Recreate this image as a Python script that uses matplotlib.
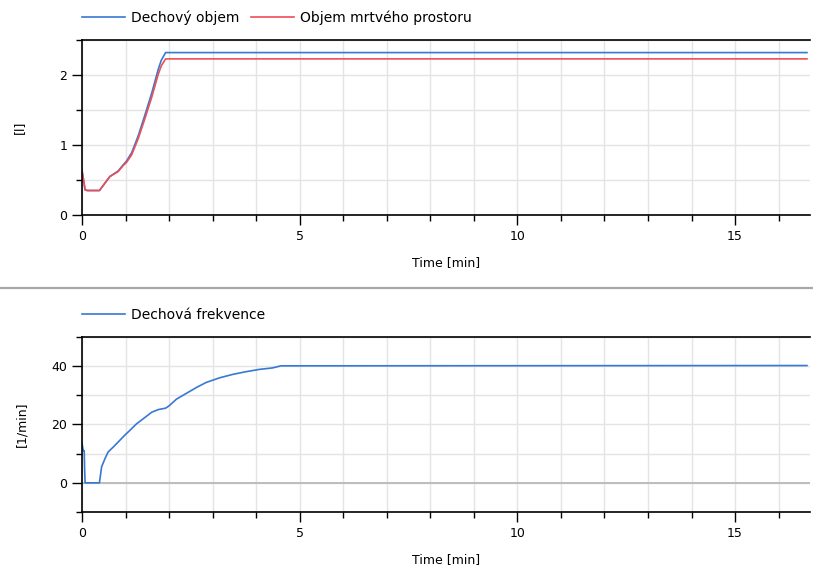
import matplotlib
matplotlib.use('Agg')
import matplotlib.pyplot as plt
from matplotlib.lines import Line2D
from matplotlib.ticker import MultipleLocator

# top panel - volumes [l] vs time [min]
t_vol = [0.0, 0.03, 0.07, 0.12, 0.4, 0.64, 0.83, 0.95, 1.02, 1.14, 1.29, 1.44,
         1.6, 1.75, 1.82, 1.92, 16.65]
dech_objem = [0.64, 0.52, 0.36, 0.35, 0.35, 0.55, 0.63, 0.72, 0.77, 0.89, 1.13, 1.42,
              1.74, 2.08, 2.21, 2.32, 2.32]
objem_mrtveho = [0.62, 0.52, 0.36, 0.35, 0.35, 0.55, 0.62, 0.71, 0.75, 0.86, 1.09, 1.37,
                 1.68, 2.01, 2.13, 2.23, 2.23]

# bottom panel - breathing frequency [1/min]
t_fr = [0.0, 0.03, 0.05, 0.06, 0.07, 0.4, 0.45, 0.53, 0.6, 0.72, 0.87, 0.98, 1.1,
        1.25, 1.4, 1.6, 1.75, 1.92, 2.0, 2.17, 2.4, 2.63, 2.85, 3.16, 3.47, 3.77,
        4.08, 4.38, 4.57, 16.65]
dech_frekvence = [13.4, 11.0, 11.0, 4.4, 0.0, 0.0, 5.5, 8.4, 10.6, 12.3, 14.6, 16.3, 18.0,
                  20.2, 21.9, 24.2, 25.1, 25.6, 26.4, 28.7, 30.7, 32.7, 34.4, 36.0, 37.2,
                  38.1, 38.9, 39.4, 40.1, 40.2]

blue = '#3778d4'
red = '#ee4e55'
plt.rcParams['font.family'] = ['DejaVu Sans']
plt.rcParams['font.size'] = 9

fig = plt.figure(figsize=(8.13, 5.72), dpi=100)
ax1 = fig.add_axes([0.1009, 0.6241, 0.8954, 0.306])
ax2 = fig.add_axes([0.1009, 0.1049, 0.8954, 0.306])


def style(ax):
    ax.spines['right'].set_visible(False)
    for s in ('left', 'top', 'bottom'):
        ax.spines[s].set_color('black')
        ax.spines[s].set_linewidth(1.2)
    ax.set_xlim(0, 16.72)
    ax.xaxis.set_major_locator(MultipleLocator(5))
    ax.xaxis.set_minor_locator(MultipleLocator(1))
    ax.tick_params(which='major', direction='out', length=7, width=1, colors='black')
    ax.tick_params(which='minor', direction='out', length=4, width=1, colors='black')
    ax.grid(which='both', color='#e4e4e4', linewidth=1)
    ax.set_axisbelow(True)
    ax.set_xlabel('Time [min]', labelpad=10)


leg_kw = dict(loc='lower left', bbox_to_anchor=(0.0, 1.085), frameon=False,
              handlelength=3.1, borderaxespad=0, borderpad=0, handletextpad=0.45,
              fontsize=10)

ax1.plot(t_vol, dech_objem, color=blue, lw=1.2, label='Dechový objem')
ax1.plot(t_vol, objem_mrtveho, color=red, lw=1.2, label='Objem mrtvého prostoru')
style(ax1)
ax1.set_ylim(0, 2.5)
ax1.yaxis.set_major_locator(MultipleLocator(1))
ax1.yaxis.set_minor_locator(MultipleLocator(0.5))
ax1.set_ylabel('[l]', labelpad=24)
ax1.legend(ncol=2, columnspacing=0.8, **leg_kw)

ax2.axhline(0, color='#b4b4b4', lw=1.2, zorder=1)
ax2.plot(t_fr, dech_frekvence, color=blue, lw=1.2, label='Dechová frekvence')
style(ax2)
ax2.set_ylim(-10, 50)
ax2.yaxis.set_major_locator(MultipleLocator(20))
ax2.yaxis.set_minor_locator(MultipleLocator(10))
ax2.set_ylabel('[1/min]', labelpad=17)
ax2.legend(**leg_kw)

# separator between the two panels
fig.add_artist(Line2D([0, 1], [1 - 288 / 572] * 2, transform=fig.transFigure,
                      color='#a8a8a8', lw=1.6))

fig.savefig('out.png', dpi=100)
